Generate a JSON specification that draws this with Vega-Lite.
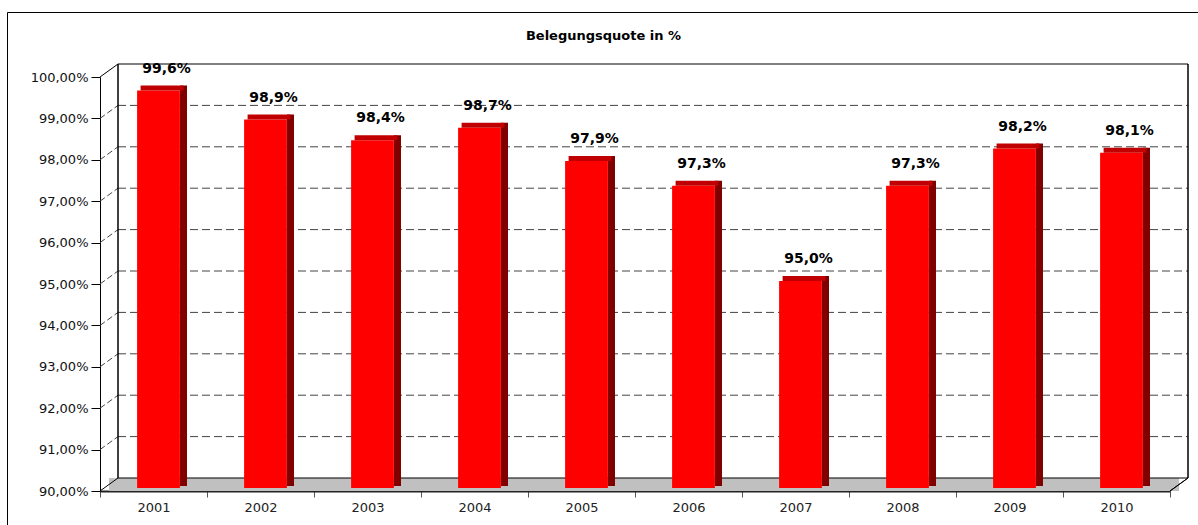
{
  "$schema": "https://vega.github.io/schema/vega-lite/v6.json",
  "width": 1193,
  "height": 515,
  "autosize": {"type": "none"},
  "padding": {"left": 7, "top": 12, "right": -2, "bottom": -2},
  "background": "white",
  "config": {"view": {"stroke": "#000", "strokeWidth": 1}, "font": "DejaVu Sans"},
  "title": {"text": "Belegungsquote in %", "fontSize": 13, "fontWeight": "bold", "font": "DejaVu Sans", "anchor": "middle", "frame": "group", "offset": 0, "baseline": "middle", "dy": 37, "color": "#000"},
  "datasets": {
    "bars": [
      {"year": "2001", "value": 99.6},
      {"year": "2002", "value": 98.9},
      {"year": "2003", "value": 98.4},
      {"year": "2004", "value": 98.7},
      {"year": "2005", "value": 97.9},
      {"year": "2006", "value": 97.3},
      {"year": "2007", "value": 95.0},
      {"year": "2008", "value": 97.3},
      {"year": "2009", "value": 98.2},
      {"year": "2010", "value": 98.1}
    ],
    "grid": [{"v": 91}, {"v": 92}, {"v": 93}, {"v": 94}, {"v": 95}, {"v": 96}, {"v": 97}, {"v": 98}, {"v": 99}],
    "edges": [{"v": 90}, {"v": 100}]
  },
  "layer": [
    {
      "data": {"name": "bars"},
      "mark": {"type": "bar", "color": "#C0C0C0", "width": {"band": 1}, "xOffset": 9, "yOffset": 0, "y2Offset": -13},
      "encoding": {
        "x": {"field": "year", "type": "ordinal", "title": null, "scale": {"domain": ["2001","2002","2003","2004","2005","2006","2007","2008","2009","2010"], "range": [93, 1163], "paddingInner": 0, "paddingOuter": 0},
              "axis": {"orient": "bottom", "offset": -36, "tickBand": "extent", "domainColor": "#222", "domainWidth": 2, "tickColor": "#555", "tickSize": 6, "labelFontSize": 13, "labelFont": "DejaVu Sans", "labelColor": "#222", "labelPadding": 4, "labelAngle": 0, "title": null, "grid": false}},
        "y": {"datum": 90, "type": "quantitative", "scale": {"domain": [90, 100], "range": [479, 65], "nice": false, "zero": false},
              "axis": {"orient": "left", "offset": -93, "values": [90, 91, 92, 93, 94, 95, 96, 97, 98, 99, 100], "labelExpr": "replace(format(datum.value, '.2f'), '.', ',') + '%'", "domainColor": "#000", "tickColor": "#000", "tickSize": 9, "labelFontSize": 13, "labelFont": "DejaVu Sans", "labelColor": "#111", "labelPadding": 3, "grid": false, "title": null}},
        "y2": {"datum": 90}
      }
    },
    {
      "data": {"name": "grid"},
      "mark": {"type": "rule", "color": "#444", "strokeDash": [8, 4], "strokeWidth": 1, "xOffset": 18, "x2Offset": 18, "yOffset": -13},
      "encoding": {
        "x": {"datum": "2001", "type": "ordinal", "bandPosition": 0},
        "x2": {"datum": "2010", "bandPosition": 1},
        "y": {"field": "v", "type": "quantitative", "title": null}
      }
    },
    {
      "data": {"name": "grid"},
      "mark": {"type": "rule", "color": "#444", "strokeDash": [6, 3], "strokeWidth": 1, "x2Offset": 18, "y2Offset": -13},
      "encoding": {
        "x": {"datum": "2001", "type": "ordinal", "bandPosition": 0},
        "x2": {"datum": "2001", "bandPosition": 0},
        "y": {"field": "v", "type": "quantitative", "title": null},
        "y2": {"field": "v"}
      }
    },
    {
      "data": {"name": "edges"},
      "mark": {"type": "rule", "color": "#000", "strokeWidth": 1, "xOffset": 18, "x2Offset": 18, "yOffset": -13},
      "encoding": {
        "x": {"datum": "2001", "type": "ordinal", "bandPosition": 0},
        "x2": {"datum": "2010", "bandPosition": 1},
        "y": {"field": "v", "type": "quantitative", "title": null}
      }
    },
    {
      "data": {"name": "edges"},
      "mark": {"type": "rule", "color": "#000", "strokeWidth": 1, "x2Offset": 18, "y2Offset": -13},
      "encoding": {
        "x": {"datum": "2001", "type": "ordinal", "bandPosition": 0},
        "x2": {"datum": "2001", "bandPosition": 0},
        "y": {"field": "v", "type": "quantitative", "title": null},
        "y2": {"field": "v"}
      }
    },
    {
      "data": {"name": "edges"},
      "mark": {"type": "rule", "color": "#000", "strokeWidth": 1, "x2Offset": 18, "y2Offset": -13},
      "encoding": {
        "x": {"datum": "2010", "type": "ordinal", "bandPosition": 1},
        "x2": {"datum": "2010", "bandPosition": 1},
        "y": {"datum": 90, "type": "quantitative"},
        "y2": {"datum": 90}
      }
    },
    {
      "data": {"name": "edges"},
      "mark": {"type": "rule", "color": "#000", "strokeWidth": 1, "xOffset": 18, "yOffset": -13, "y2Offset": -13},
      "encoding": {
        "x": {"datum": "2001", "type": "ordinal", "bandPosition": 0},
        "y": {"datum": 100, "type": "quantitative"},
        "y2": {"datum": 90}
      }
    },
    {
      "data": {"name": "edges"},
      "mark": {"type": "rule", "color": "#000", "strokeWidth": 1, "xOffset": 18, "yOffset": -13, "y2Offset": -13},
      "encoding": {
        "x": {"datum": "2010", "type": "ordinal", "bandPosition": 1},
        "y": {"datum": 100, "type": "quantitative"},
        "y2": {"datum": 90}
      }
    },
    {
      "data": {"name": "bars"},
      "mark": {"type": "bar", "color": "#FF0000", "width": {"band": 0.4}, "xOffset": 5, "yOffset": -3, "y2Offset": -3},
      "encoding": {
        "x": {"field": "year", "type": "ordinal"},
        "y": {"field": "value", "type": "quantitative", "title": null},
        "y2": {"datum": 90}
      }
    },
    {
      "data": {"name": "bars"},
      "mark": {"type": "bar", "color": "#800000", "width": {"band": 0.0654}, "xOffset": 30, "yOffset": -8, "y2Offset": -5},
      "encoding": {
        "x": {"field": "year", "type": "ordinal"},
        "y": {"field": "value", "type": "quantitative", "title": null},
        "y2": {"datum": 90}
      }
    },
    {
      "data": {"name": "bars"},
      "mark": {"type": "bar", "color": "#C00000", "width": {"band": 0.4}, "xOffset": 8.5, "yOffset": -8, "y2Offset": -3},
      "encoding": {
        "x": {"field": "year", "type": "ordinal"},
        "y": {"field": "value", "type": "quantitative", "title": null},
        "y2": {"field": "value"}
      }
    },
    {
      "data": {"name": "bars"},
      "transform": [{"calculate": "replace(format(datum.value, '.1f'), '.', ',') + '%'", "as": "label"}],
      "mark": {"type": "text", "xOffset": 13, "yOffset": -3, "dy": -22, "baseline": "middle", "align": "center", "fontSize": 14, "fontWeight": "bold", "font": "DejaVu Sans", "color": "#000"},
      "encoding": {
        "x": {"field": "year", "type": "ordinal"},
        "y": {"field": "value", "type": "quantitative", "title": null},
        "text": {"field": "label"}
      }
    }
  ]
}
